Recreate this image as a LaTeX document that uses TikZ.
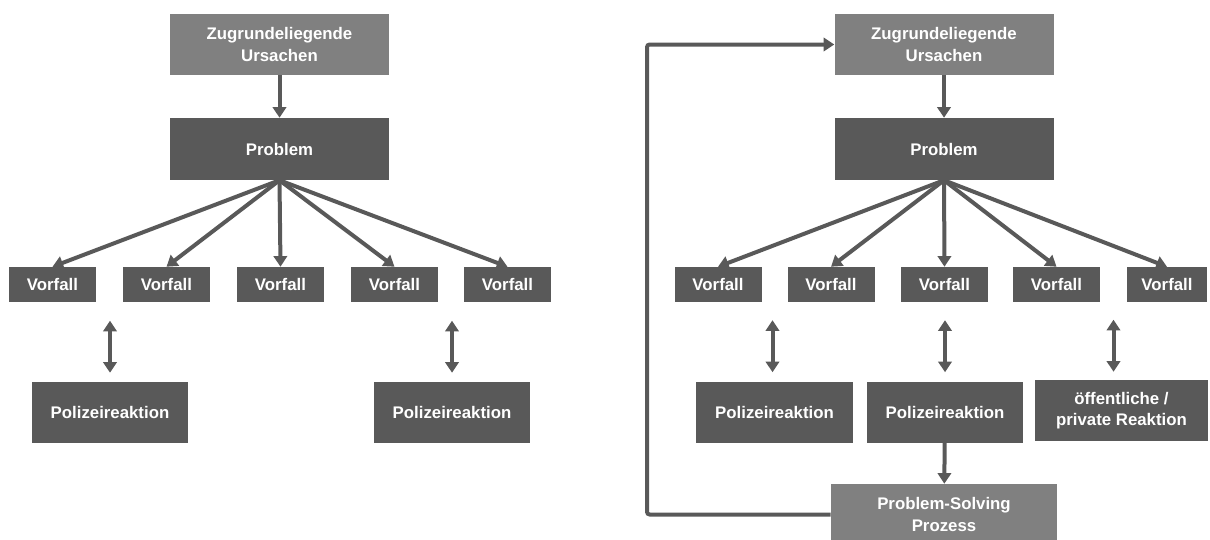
\documentclass[tikz,border=0pt]{standalone}
\usepackage{fontspec}
\setmainfont{Liberation Sans}
\usetikzlibrary{arrows.meta}
\definecolor{boxdark}{HTML}{595959}
\definecolor{boxlight}{HTML}{808080}
\begin{document}
\begin{tikzpicture}[x=0.75pt,y=-0.75pt,
  box/.style={fill=boxdark,text=white,font=\fontsize{12.6}{16}\selectfont\bfseries,
    align=center,inner sep=0pt,minimum height=45.75pt},
  lightbox/.style={box,fill=boxlight},
  vorfall/.style={box,minimum width=65.25pt,minimum height=26.25pt},
  arr/.style={draw=boxdark,line width=3pt,-{Triangle[length=8pt,width=10pt]}},
  both/.style={arr,{Triangle[length=8pt,width=10pt]}-{Triangle[length=8pt,width=10pt]}}]
\useasboundingbox (0,0) rectangle (1210,539);
\node[lightbox,minimum width=164.25pt] (u1) at (279.5,44.5) {Zugrundeliegende\\Ursachen};
\node[box,minimum width=164.25pt,minimum height=46.5pt] (p1) at (279.5,149) {Problem};
\node[vorfall] (v1) at (52.5,284.5) {Vorfall};
\node[vorfall] (v2) at (166.5,284.5) {Vorfall};
\node[vorfall] (v3) at (280.5,284.5) {Vorfall};
\node[vorfall] (v4) at (394.5,284.5) {Vorfall};
\node[vorfall] (v5) at (507.5,284.5) {Vorfall};
\node[box,minimum width=117pt] (pl1) at (110,412.5) {Polizeireaktion};
\node[box,minimum width=117pt] (pl2) at (452,412.5) {Polizeireaktion};
\draw[arr] (u1) -- (p1);
\draw[arr] (p1.south) -- (v1.north);
\draw[arr] (p1.south) -- (v2.north);
\draw[arr] (p1.south) -- (v3.north);
\draw[arr] (p1.south) -- (v4.north);
\draw[arr] (p1.south) -- (v5.north);
\draw[both] (pl1.north) ++(0,-9) -- ++(0,-52);
\draw[both] (pl2.north) ++(0,-9) -- ++(0,-52);

\node[lightbox,minimum width=164.25pt] (u2) at (944,44.5) {Zugrundeliegende\\Ursachen};
\node[box,minimum width=164.25pt,minimum height=46.5pt] (p2) at (944,149) {Problem};
\node[vorfall] (w1) at (718,284.5) {Vorfall};
\node[vorfall] (w2) at (831,284.5) {Vorfall};
\node[vorfall] (w3) at (944.5,284.5) {Vorfall};
\node[vorfall] (w4) at (1056.5,284.5) {Vorfall};
\node[vorfall,minimum width=60pt] (w5) at (1167,284.5) {Vorfall};
\node[box,minimum width=117.75pt] (pl3) at (774.5,412) {Polizeireaktion};
\node[box,minimum width=117pt] (pl4) at (945,412) {Polizeireaktion};
\node[box,minimum width=129.75pt] (oe) at (1121.5,410.5) {öffentliche /\\private Reaktion};
\node[lightbox,minimum width=169.5pt] (ps) at (944,514.5) {Problem-Solving\\Prozess};
\draw[arr] (u2) -- (p2);
\draw[arr] (p2.south) -- (w1.north);
\draw[arr] (p2.south) -- (w2.north);
\draw[arr] (p2.south) -- (w3.north);
\draw[arr] (p2.south) -- (w4.north);
\draw[arr] (p2.south) -- (w5.north);
\draw[both] (pl3.north) ++(-2,-9) -- ++(0,-52);
\draw[both] (pl4.north) ++(0,-9) -- ++(0,-52);
\draw[both] (oe.north) ++(-8,-8) -- ++(0,-52);
\draw[arr] (pl4) -- (ps);
\draw[arr,rounded corners=2pt] (ps.west) -| (647,44.5) -- (u2.west);
\end{tikzpicture}
\end{document}
